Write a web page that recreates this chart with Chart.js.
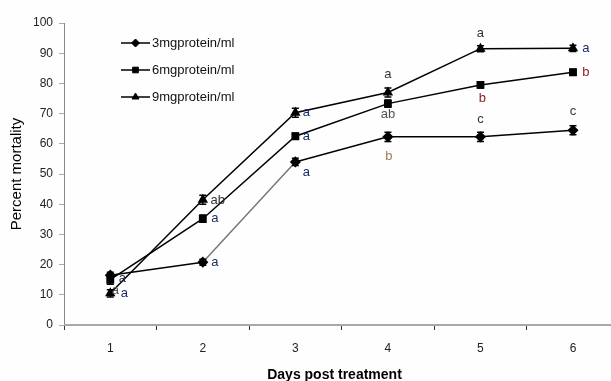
<!DOCTYPE html>
<html>
<head>
<meta charset="utf-8">
<script src="https://cdn.jsdelivr.net/npm/chart.js@4"></script>
<style>
html,body{margin:0;padding:0;background:#fefefe;overflow:hidden;}
#wrap{width:611px;height:381px;position:relative;}
</style>
</head>
<body>
<div id="wrap"><canvas id="c" width="611" height="381"></canvas></div>
<script>
const days = [1, 2, 3, 4, 5, 6];
const seriesNames = ['3mgprotein/ml', '6mgprotein/ml', '9mgprotein/ml'];
const mort3 = [16.5, 20.8, 54.0, 62.3, 62.3, 64.5];
const mort6 = [15.0, 35.2, 62.5, 73.3, 79.5, 83.7];
const mort9 = [10.5, 41.5, 70.3, 77.0, 91.5, 91.6];
const err3 = [1.0, 1.0, 1.2, 1.5, 1.5, 1.5];
const err6 = [1.5, 1.2, 1.0, 1.2, 1.0, 1.0];
const err9 = [1.2, 1.5, 1.5, 1.5, 1.0, 1.0];
const letters3 = ['a', 'a', 'a', 'b', 'c', 'c'];
const letters6 = ['a', 'a', 'a', 'ab', 'b', 'b'];
const letters9 = ['a', 'ab', 'a', 'a', 'a', 'a'];
const yTicks = [0, 10, 20, 30, 40, 50, 60, 70, 80, 90, 100];

// label placement (pixel offsets from each point) and colours — style only
const letterOffsets = [
  [[12,3],[12,0],[11,11],[1,20],[0,-17],[0,-19]],
  [[5,11],[12,0],[11,0],[0,11],[2,14],[13,0]],
  [[14,0],[15,1],[11,0],[0,-18],[0,-15],[13,0]]
];
const letterColors = [
  ['#20304a','#1a2a5a','#1a2a6a','#a07850','#333','#333'],
  ['#555','#1a2a5a','#1a2a6a','#555','#8b1a1a','#8b1a1a'],
  ['#1a2a6a','#333','#1a2a6a','#333','#333','#1a2a6a']
];

const mk = (arr) => arr.map((v, i) => ({x: days[i], y: v}));
const errs = [err3, err6, err9];
const letters = [letters3, letters6, letters9];

const errorBars = {
  id: 'errorBars',
  afterDatasetsDraw(chart) {
    const ctx = chart.ctx, ys = chart.scales.y;
    ctx.save();
    ctx.strokeStyle = '#000';
    ctx.lineWidth = 1.5;
    chart.data.datasets.forEach((ds, di) => {
      const meta = chart.getDatasetMeta(di);
      meta.data.forEach((pt, i) => {
        const v = ds.data[i].y, e = errs[di][i];
        const y1 = ys.getPixelForValue(v + e), y2 = ys.getPixelForValue(v - e);
        ctx.beginPath();
        ctx.moveTo(pt.x, y1); ctx.lineTo(pt.x, y2);
        ctx.moveTo(pt.x - 3.5, y1); ctx.lineTo(pt.x + 3.5, y1);
        ctx.moveTo(pt.x - 3.5, y2); ctx.lineTo(pt.x + 3.5, y2);
        ctx.stroke();
      });
    });
    ctx.font = '13px "Liberation Sans", Arial, sans-serif';
    ctx.textAlign = 'center';
    ctx.textBaseline = 'middle';
    chart.data.datasets.forEach((ds, di) => {
      const meta = chart.getDatasetMeta(di);
      meta.data.forEach((pt, i) => {
        const o = letterOffsets[di][i];
        ctx.fillStyle = letterColors[di][i];
        ctx.fillText(letters[di][i], pt.x + o[0], pt.y + o[1]);
      });
    });
    ctx.restore();
  }
};

const innerLegend = {
  id: 'innerLegend',
  afterDraw(chart) {
    const ctx = chart.ctx;
    ctx.save();
    // x-axis baseline drawn across to the canvas edge, as in the cropped original
    const ca = chart.chartArea;
    const yb = Math.round(chart.scales.x.top);
    ctx.fillStyle = '#a8a8a8';
    ctx.fillRect(ca.left, yb - 1, chart.width - ca.left, 2);

    const x0 = 121, x1 = 150, rows = [43, 70, 97];
    chart.data.datasets.forEach((ds, di) => {
      const y = rows[di];
      ctx.strokeStyle = '#000';
      ctx.fillStyle = '#000';
      ctx.lineWidth = 1.5;
      ctx.beginPath(); ctx.moveTo(x0, y); ctx.lineTo(x1, y); ctx.stroke();
      ctx.lineWidth = 1;
      Chart.helpers.drawPoint(ctx, {pointStyle: ds.pointStyle, radius: 4, borderWidth: 1, rotation: 0}, (x0 + x1) / 2, y);
      ctx.fillStyle = '#111';
      ctx.font = '13px "Liberation Sans", Arial, sans-serif';
      ctx.textAlign = 'left';
      ctx.textBaseline = 'middle';
      ctx.fillText(ds.label, 152, y);
    });
    ctx.restore();
  }
};

const common = {borderColor: '#000', backgroundColor: '#000', borderWidth: 1.5, pointBorderColor: '#000', pointBackgroundColor: '#000', tension: 0};

new Chart(document.getElementById('c'), {
  type: 'line',
  data: {
    datasets: [
      Object.assign({label: seriesNames[0], data: mk(mort3), pointStyle: 'rectRot', pointRadius: 4.5,
        segment: {borderColor: c => c.p0DataIndex === 1 ? '#777' : '#000'}}, common),
      Object.assign({label: seriesNames[1], data: mk(mort6), pointStyle: 'rect', pointRadius: 4.5}, common),
      Object.assign({label: seriesNames[2], data: mk(mort9), pointStyle: 'triangle', pointRadius: 4.5}, common)
    ]
  },
  options: {
    responsive: false,
    animation: false,
    layout: {padding: {top: 23, right: 0, left: 0, bottom: -3}},
    plugins: {legend: {display: false}, tooltip: {enabled: false}},
    scales: {
      x: {
        type: 'linear',
        min: 0.5,
        max: 6.346,
        afterBuildTicks: (s) => { s.ticks = [0.5,1,1.5,2,2.5,3,3.5,4,4.5,5,5.5,6].map(v => ({value: v})); },
        afterFit: (s) => { s.height = 59; },
        border: {display: false},
        grid: {drawOnChartArea: false, tickLength: 5, lineWidth: 1,
          color: c => (c.tick && Number.isInteger(c.tick.value)) ? 'rgba(0,0,0,0)' : '#333'},
        ticks: {
          autoSkip: false, maxRotation: 0, padding: 11,
          color: '#222',
          font: {family: '"Liberation Sans", Arial, sans-serif', size: 12},
          callback: (v) => Number.isInteger(v) ? String(v) : ''
        },
        title: {display: true, text: 'Days post treatment', color: '#000',
          font: {family: '"Liberation Sans", Arial, sans-serif', size: 14, weight: 'bold'},
          padding: {top: 0, bottom: 0}}
      },
      y: {
        min: 0, max: 100,
        afterBuildTicks: (s) => { s.ticks = yTicks.map(v => ({value: v})); },
        afterFit: (s) => { s.width = 64; },
        border: {color: '#888', width: 1},
        grid: {drawOnChartArea: false, tickLength: 5, color: '#aaa'},
        ticks: {color: '#222', padding: 6,
          font: {family: '"Liberation Sans", Arial, sans-serif', size: 12}},
        title: {display: true, text: 'Percent mortality', color: '#000',
          font: {family: '"Liberation Sans", Arial, sans-serif', size: 15},
          padding: {top: 8, bottom: 0}}
      }
    }
  },
  plugins: [errorBars, innerLegend]
});
</script>
</body>
</html>
